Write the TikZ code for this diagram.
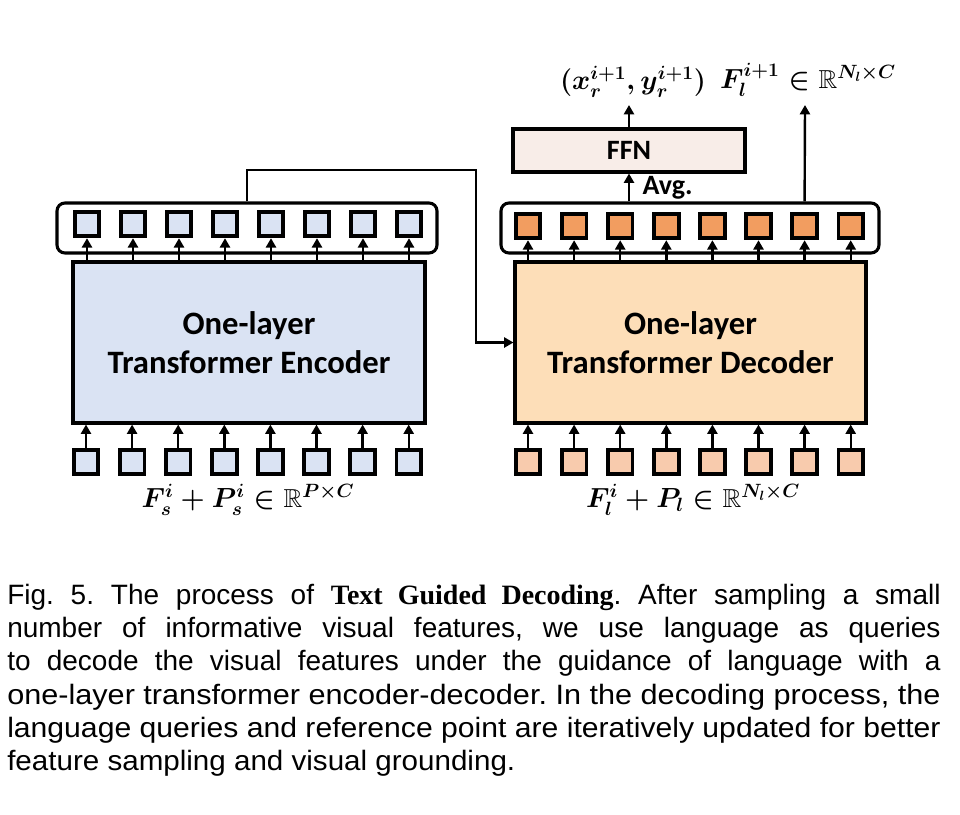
\documentclass[tikz,border=0pt]{standalone}
\usepackage{fontspec}
\usepackage{amsmath,amssymb}
\usepackage{graphicx}
\setmainfont{Liberation Sans}
\newfontfamily\calfont{Carlito}
\newfontfamily\capserif{Liberation Serif}
\usetikzlibrary{arrows.meta, positioning}
\definecolor{encFill}{HTML}{DAE3F3}
\definecolor{decFill}{HTML}{FDDEB8}
\definecolor{decTok}{HTML}{F29D60}
\definecolor{decIn}{HTML}{F8CBAD}
\definecolor{ffnFill}{HTML}{F8EDE8}

\begin{document}
\begin{tikzpicture}[x=0.75pt, y=-0.75pt,
        mainbox/.style={draw, line width=2.3pt, minimum height=120.75pt, align=center,
          font=\calfont\bfseries\fontsize{24.5}{29.25}\selectfont},
        tok/.style={draw, line width=2.8pt, minimum size=18.5pt, inner sep=0pt},
        frame/.style={draw, line width=2.3pt, rounded corners=6pt, minimum height=37.5pt},
        arr/.style={line width=1.8pt, -{Triangle[length=7pt, width=7.5pt]}},
        mathlbl/.style={font=\fontsize{19.5}{22}\selectfont\boldmath},
        capline/.style={anchor=base west, inner sep=0pt, font=\fontsize{21}{25}\selectfont\frenchspacing}]
  \useasboundingbox (0,0) rectangle (960,814);

  % encoder and decoder
  \node[mainbox, fill=encFill, minimum width=264pt] (enc) at (249,342.5) {One-layer\\Transformer Encoder};
  \node[mainbox, fill=decFill, minimum width=263.25pt] (dec) at (690.5,342.5) {One-layer\\Transformer Decoder};

  % token rows
  \node[frame, minimum width=285pt] (encRow) at (247,228) {};
  \node[frame, minimum width=283.5pt] (decRow) at (690,228) {};
  \foreach \i in {0,...,7} {
    \node[tok, fill=encFill] (encTop\i) at ({87+46*\i},224) {};
    \node[tok, fill=encFill] (encBot\i) at ({86+46.1*\i},462) {};
    \node[tok, fill=decTok] (decTop\i) at ({528+46.1*\i},226) {};
    \node[tok, fill=decIn] (decBot\i) at ({528+46.1*\i},462) {};
    \draw[arr] (enc.north -| encTop\i) -- (encTop\i.south);
    \draw[arr] (encBot\i.north) -- (encBot\i.north |- enc.south);
    \draw[arr] (dec.north -| decTop\i) -- (decTop\i.south);
    \draw[arr] (decBot\i.north) -- (decBot\i.north |- dec.south);
  }

  % memory from encoder to decoder
  \coordinate (bend) at (476,170);
  \draw[arr] (encRow.north) |- (bend) |- (dec.west);

  % FFN head
  \node[draw, line width=2.3pt, fill=ffnFill, minimum width=174pt, minimum height=32.25pt,
    font=\calfont\bfseries\fontsize{21}{25}\selectfont] (ffn) at (629,150.5) {FFN};
  \draw[arr] (decRow.north -| ffn) -- node[right, xshift=6pt, font=\calfont\bfseries\fontsize{21}{25}\selectfont] {Avg.} (ffn.south);
  \coordinate (ptOut) at (629,105);
  \coordinate (featOut) at (805,105);
  \draw[arr] (ffn.north) -- (ptOut);
  \draw[arr] (decRow.north -| decTop6) -- (featOut);

  % labels
  \node[mathlbl] (ptLbl) at (633,82) {$(x_r^{i+1}, y_r^{i+1})$};
  \node[mathlbl] (featLbl) at (808,80) {$F_l^{i+1} \in \mathbb{R}^{N_l\times C}$};
  \node[mathlbl] (encLbl) at (248,500) {$F_s^i + P_s^i \in \mathbb{R}^{P\times C}$};
  \node[mathlbl] (decLbl) at (693,500) {$F_l^i + P_l \in \mathbb{R}^{N_l\times C}$};

  % caption
  \node[capline] (cap1) at (7,604) {\makebox[700pt][s]{Fig. 5. The process of {\capserif\bfseries Text Guided Decoding}. After sampling a small}};
  \node[capline] (cap2) at (7,637) {\makebox[700pt][s]{number of informative visual features, we use language as queries}};
  \node[capline] (cap3) at (7,670) {\makebox[700pt][s]{to decode the visual features under the guidance of language with a}};
  \node[capline] (cap4) at (7,704) {\resizebox{700pt}{\height}{one-layer transformer encoder-decoder. In the decoding process, the}};
  \node[capline] (cap5) at (7,737) {\resizebox{700pt}{\height}{language queries and reference point are iteratively updated for better}};
  \node[capline] (cap6) at (7,770) {\resizebox{381pt}{\height}{feature sampling and visual grounding.}};
\end{tikzpicture}
\end{document}
